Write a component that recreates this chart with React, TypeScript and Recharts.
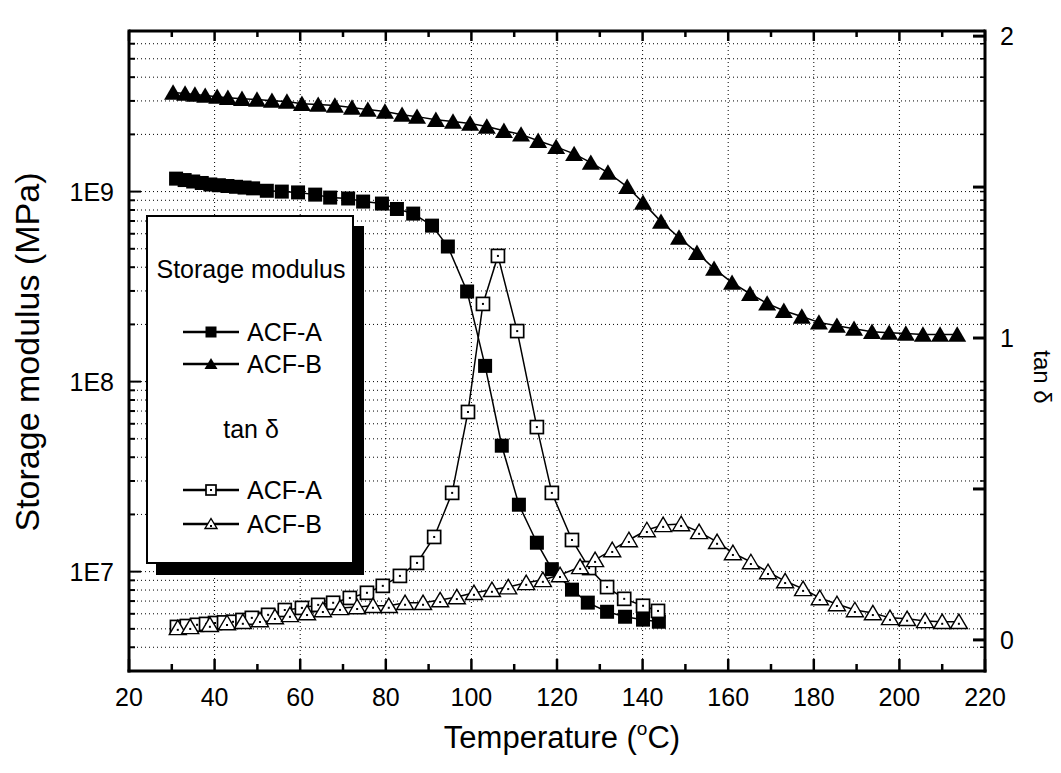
import React from 'react';
import { LineChart, Line, XAxis, YAxis, ReferenceLine, Legend, Label } from 'recharts';

const FONT = '"Liberation Sans", Arial, Helvetica, sans-serif';

const W = 1053;
const H = 757;
const PLOT_W = 856;
const PLOT_H = 640;

// ---- Storage modulus, ACF-A (MPa) ----
const smA_T = [31, 33, 35, 37, 39, 41, 43, 45, 47, 49, 52.2, 55.7, 59.5, 63.5, 67, 71.2, 74.7, 79.1, 82.6, 86.4, 90.8, 94.5, 99.0, 103.2, 107.1, 111.1, 115.3, 118.8, 123.5, 127.2, 131.7, 135.9, 140.1, 143.8];
const smA_E = [1.17e9, 1.15e9, 1.13e9, 1.11e9, 1.09e9, 1.08e9, 1.07e9, 1.06e9, 1.05e9, 1.04e9, 1.01e9, 1.0e9, 0.99e9, 0.964e9, 0.93e9, 0.92e9, 0.886e9, 0.865e9, 0.81e9, 0.766e9, 6.62e8, 5.14e8, 2.98e8, 1.21e8, 4.6e7, 2.25e7, 1.42e7, 1.03e7, 8.04e6, 6.87e6, 6.15e6, 5.79e6, 5.59e6, 5.45e6];

// ---- Storage modulus, ACF-B (MPa) ----
const smB_T = [30.3, 33.1, 35.4, 37.8, 40.6, 43.1, 46.4, 49.9, 53.4, 56.9, 60.4, 64.2, 68.1, 72.1, 75.8, 79.8, 83.8, 87.3, 91.7, 95.7, 99.7, 103.6, 107.6, 111.6, 115.6, 119.8, 124.0, 127.9, 131.9, 136.4, 140.1, 144.3, 148.5, 152.7, 156.7, 160.9, 165.1, 169.1, 173.0, 177.2, 181.2, 185.4, 189.4, 193.6, 197.6, 201.5, 205.5, 209.5, 213.5];
const smB_E = [3.32e9, 3.28e9, 3.24e9, 3.2e9, 3.16e9, 3.12e9, 3.08e9, 3.05e9, 3.01e9, 2.98e9, 2.9e9, 2.87e9, 2.84e9, 2.77e9, 2.7e9, 2.64e9, 2.54e9, 2.48e9, 2.39e9, 2.34e9, 2.28e9, 2.2e9, 2.09e9, 2.0e9, 1.85e9, 1.72e9, 1.58e9, 1.42e9, 1.26e9, 1.06e9, 8.75e8, 6.95e8, 5.73e8, 4.77e8, 3.93e8, 3.32e8, 2.9e8, 2.58e8, 2.36e8, 2.2e8, 2.05e8, 1.97e8, 1.9e8, 1.83e8, 1.81e8, 1.79e8, 1.77e8, 1.77e8, 1.77e8];

// ---- tan delta, ACF-A ----
const tdA_T = [31.2, 33.5, 35.9, 38, 40.1, 42.2, 44.3, 46.5, 48.7, 52.5, 56.4, 60.4, 64.2, 67.7, 71.6, 75.6, 79.3, 83.3, 87.3, 91.3, 95.5, 99.2, 102.7, 106.2, 110.7, 115.3, 118.8, 123.5, 127.5, 131.7, 135.7, 140.1, 143.6];
const tdA_V = [0.043, 0.046, 0.050, 0.053, 0.056, 0.058, 0.060, 0.066, 0.073, 0.083, 0.099, 0.106, 0.116, 0.123, 0.139, 0.156, 0.179, 0.212, 0.255, 0.341, 0.487, 0.755, 1.113, 1.272, 1.023, 0.705, 0.487, 0.331, 0.238, 0.175, 0.136, 0.113, 0.096];

// ---- tan delta, ACF-B ----
const tdB_T = [31.4, 34.3, 38.9, 42.9, 46.6, 50.6, 54.1, 57.6, 61.6, 65.3, 69.3, 73.3, 77.0, 80.7, 84.5, 88.7, 92.7, 96.6, 100.6, 104.8, 108.6, 112.8, 116.7, 120.7, 125.4, 128.9, 132.9, 136.8, 141.0, 144.8, 149.0, 153.2, 157.4, 161.1, 165.3, 169.3, 173.3, 177.5, 181.4, 185.4, 189.6, 193.8, 197.8, 201.8, 206.0, 210.0, 213.9];
const tdB_V = [0.040, 0.043, 0.050, 0.056, 0.060, 0.066, 0.076, 0.083, 0.089, 0.099, 0.106, 0.109, 0.113, 0.113, 0.123, 0.123, 0.132, 0.142, 0.156, 0.166, 0.175, 0.189, 0.199, 0.215, 0.242, 0.265, 0.298, 0.331, 0.364, 0.381, 0.384, 0.358, 0.325, 0.288, 0.258, 0.225, 0.195, 0.169, 0.139, 0.119, 0.099, 0.089, 0.073, 0.070, 0.063, 0.060, 0.060];

// ---- axes ----
const xDomain = [20, 220];
const xTicks = [20, 30, 40, 50, 60, 70, 80, 90, 100, 110, 120, 130, 140, 150, 160, 170, 180, 190, 200, 210, 220];
const xMajorTicks = [20, 40, 60, 80, 100, 120, 140, 160, 180, 200, 220];
const xGridLines = [40, 60, 80, 100, 120, 140, 160, 180, 200];

const leftDomain = [3e6, 7e9];
const leftTicks = [3e6, 4e6, 5e6, 6e6, 7e6, 8e6, 9e6, 1e7, 2e7, 3e7, 4e7, 5e7, 6e7, 7e7, 8e7, 9e7, 1e8, 2e8, 3e8, 4e8, 5e8, 6e8, 7e8, 8e8, 9e8, 1e9, 2e9, 3e9, 4e9, 5e9, 6e9, 7e9];
const leftMajorTicks = [1e7, 1e8, 1e9];
const leftMajorLabels = ['1E7', '1E8', '1E9'];
const leftGridLines = leftTicks.filter((v) => v !== 3e6 && v !== 7e9);

const rightDomain = [-0.103, 2.017];
const rightTicks = [0, 0.5, 1, 1.5, 2];
const rightLabelValues = [0, 1, 2];
const rightLabels = ['0', '1', '2'];

const toPoints = (ts: number[], vs: number[]) => ts.map((t, i) => ({ t, v: vs[i] }));
const smAData = toPoints(smA_T, smA_E);
const smBData = toPoints(smB_T, smB_E);
const tdAData = toPoints(tdA_T, tdA_V);
const tdBData = toPoints(tdB_T, tdB_V);

// ---- markers ----
const drawMarker = (kind: string, cx: number, cy: number, s: number, key?: any) => {
  if (kind === 'fs') {
    return <rect key={key} x={cx - s / 2} y={cy - s / 2} width={s} height={s} fill="#000" />;
  }
  if (kind === 'ft') {
    const h = s * 0.9;
    return <polygon key={key} points={`${cx},${cy - h / 2 - 1} ${cx - s / 2 - 1},${cy + h / 2} ${cx + s / 2 + 1},${cy + h / 2}`} fill="#000" />;
  }
  if (kind === 'os') {
    return (
      <g key={key}>
        <rect x={cx - s / 2} y={cy - s / 2} width={s} height={s} fill="#fff" stroke="#000" strokeWidth={1.7} />
        <rect x={cx - 1} y={cy - 1} width={2} height={2} fill="#000" />
      </g>
    );
  }
  const h = s * 0.9;
  return (
    <g key={key}>
      <polygon points={`${cx},${cy - h / 2 - 1} ${cx - s / 2 - 1},${cy + h / 2} ${cx + s / 2 + 1},${cy + h / 2}`} fill="#fff" stroke="#000" strokeWidth={1.4} strokeLinejoin="miter" />
      <rect x={cx - 1} y={cy + 1} width={2} height={2} fill="#000" />
    </g>
  );
};

const makeDot = (kind: string, size: number) => (p: any) => {
  if (p.cx == null || p.cy == null || isNaN(p.cx) || isNaN(p.cy)) return <g key={p.index} />;
  return drawMarker(kind, p.cx, p.cy, size, p.index);
};

// ---- custom ticks (inward tick marks) ----
const BottomTick = (props: any) => {
  const { x, y, payload } = props;
  const v = payload.value;
  const major = xMajorTicks.includes(v);
  const len = major ? 12 : 7;
  const lenTop = major ? 10 : 6;
  return (
    <g>
      <line x1={x} y1={y} x2={x} y2={y - len} stroke="#000" strokeWidth={2.5} />
      <line x1={x} y1={y - PLOT_H} x2={x} y2={y - PLOT_H + lenTop} stroke="#000" strokeWidth={2.5} />
      {major && (
        <text x={x} y={y + 35} textAnchor="middle" fontSize={25} fontFamily={FONT} fill="#000">
          {String(v)}
        </text>
      )}
    </g>
  );
};

const LeftTick = (props: any) => {
  const { x, y, payload } = props;
  const v = payload.value;
  const mi = leftMajorTicks.indexOf(v);
  const major = mi >= 0;
  const len = major ? 12 : 6;
  return (
    <g>
      <line x1={x} y1={y} x2={x + len} y2={y} stroke="#000" strokeWidth={2} />
      <line x1={x + PLOT_W} y1={y} x2={x + PLOT_W - 5} y2={y} stroke="#000" strokeWidth={1.5} />
      {major && (
        <text x={x - 15} y={y + 9} textAnchor="end" fontSize={25} fontFamily={FONT} fill="#000">
          {leftMajorLabels[mi]}
        </text>
      )}
    </g>
  );
};

const RightTick = (props: any) => {
  const { x, y, payload } = props;
  const v = payload.value;
  const li = rightLabelValues.indexOf(v);
  return (
    <g>
      <line x1={x} y1={y} x2={x - 12} y2={y} stroke="#000" strokeWidth={3} />
      {li >= 0 && (
        <text x={x + 22} y={y + 9} textAnchor="middle" fontSize={25} fontFamily={FONT} fill="#000">
          {rightLabels[li]}
        </text>
      )}
    </g>
  );
};

// ---- legend ----
const legendRows = [
  { type: 'title', text: 'Storage modulus', y: 52 },
  { type: 'item', text: 'ACF-A', marker: 'fs', y: 115 },
  { type: 'item', text: 'ACF-B', marker: 'ft', y: 147 },
  { type: 'title', text: 'tan δ', y: 212 },
  { type: 'item', text: 'ACF-A', marker: 'os', y: 273 },
  { type: 'item', text: 'ACF-B', marker: 'ot', y: 307 },
];

const LegendBox = () => (
  <div
    style={{
      position: 'relative',
      width: 208,
      height: 349,
      boxSizing: 'border-box',
      border: '2px solid #000',
      background: '#fff',
      boxShadow: '10px 11px 0 0 #000',
      fontFamily: FONT,
      fontSize: 25,
      color: '#000',
    }}
  >
    {legendRows.map((r, i) =>
      r.type === 'title' ? (
        <div key={i} style={{ position: 'absolute', left: 0, width: 206, top: r.y - 15, lineHeight: '30px', textAlign: 'center' }}>
          {r.text}
        </div>
      ) : (
        <div key={i} style={{ position: 'absolute', left: 34, top: r.y - 15, height: 30, display: 'flex', alignItems: 'center' }}>
          <svg width={58} height={30} style={{ display: 'block' }}>
            <line x1={1} y1={15} x2={57} y2={15} stroke="#000" strokeWidth={2.5} />
            {drawMarker(r.marker as string, 29, 15, r.marker === 'os' || r.marker === 'ot' ? 10 : 11)}
          </svg>
          <span style={{ marginLeft: 7, lineHeight: '30px' }}>{r.text}</span>
        </div>
      )
    )}
  </div>
);

export default function App() {
  return (
    <div style={{ width: W, height: H }}>
      <LineChart width={W} height={H} margin={{ top: 23, right: 8, bottom: 34, left: 0 }}>
        <XAxis
          xAxisId="x"
          type="number"
          dataKey="t"
          domain={xDomain}
          ticks={xTicks}
          interval={0}
          allowDataOverflow
          tickSize={0}
          tickMargin={0}
          tickLine={false}
          tick={<BottomTick />}
          height={60}
          axisLine={{ stroke: '#000', strokeWidth: 3, strokeLinecap: 'square' }}
        >
          <Label
            content={() => (
              <text x={554} y={740} textAnchor="middle" fontSize={31} fontFamily={FONT} fill="#000">
                Temperature (
                <tspan fontSize={19} dy={-13}>o</tspan>
                <tspan dy={13}>C)</tspan>
              </text>
            )}
          />
        </XAxis>
        <YAxis
          yAxisId="left"
          orientation="left"
          type="number"
          scale="log"
          domain={leftDomain}
          ticks={leftTicks}
          interval={0}
          allowDataOverflow
          width={121}
          tickSize={0}
          tickMargin={0}
          tickLine={false}
          tick={<LeftTick />}
          axisLine={{ stroke: '#000', strokeWidth: 3, strokeLinecap: 'square' }}
        >
          <Label
            content={() => (
              <text
                x={19}
                y={344 + 12}
                transform="rotate(-90 19 344)"
                textAnchor="middle"
                fontSize={34}
                fontFamily={FONT}
                fill="#000"
              >
                Storage modulus (MPa)
              </text>
            )}
          />
        </YAxis>
        <YAxis
          yAxisId="right"
          orientation="right"
          type="number"
          domain={rightDomain}
          ticks={rightTicks}
          interval={0}
          allowDataOverflow
          width={68}
          tickSize={0}
          tickMargin={0}
          tickLine={false}
          tick={<RightTick />}
          axisLine={{ stroke: '#000', strokeWidth: 3, strokeLinecap: 'square' }}
        >
          <Label
            content={() => (
              <text
                x={1034}
                y={369 + 8}
                transform="rotate(90 1034 369)"
                textAnchor="middle"
                fontSize={24}
                fontFamily={FONT}
                fill="#000"
              >
                tan δ
              </text>
            )}
          />
        </YAxis>

        {leftGridLines.map((v) => (
          <ReferenceLine key={'h' + v} xAxisId="x" yAxisId="left" y={v} stroke="#000" strokeWidth={1} strokeDasharray="1 3" />
        ))}
        {xGridLines.map((v) => (
          <ReferenceLine key={'v' + v} xAxisId="x" yAxisId="left" x={v} stroke="#000" strokeWidth={1} strokeDasharray="1 3" />
        ))}
        <ReferenceLine xAxisId="x" yAxisId="left" y={leftDomain[1]} stroke="#000" strokeWidth={3} ifOverflow="visible" />

        <Line xAxisId="x" yAxisId="left" data={smAData} dataKey="v" type="linear" stroke="#000" strokeWidth={1.5} dot={makeDot('fs', 14)} isAnimationActive={false} />
        <Line xAxisId="x" yAxisId="left" data={smBData} dataKey="v" type="linear" stroke="#000" strokeWidth={1.5} dot={makeDot('ft', 16)} isAnimationActive={false} />
        <Line xAxisId="x" yAxisId="right" data={tdAData} dataKey="v" type="linear" stroke="#000" strokeWidth={1.5} dot={makeDot('os', 13)} isAnimationActive={false} />
        <Line xAxisId="x" yAxisId="right" data={tdBData} dataKey="v" type="linear" stroke="#000" strokeWidth={1.5} dot={makeDot('ot', 15)} isAnimationActive={false} />

        <Legend
          layout="vertical"
          align="center"
          verticalAlign="middle"
          content={<LegendBox />}
          wrapperStyle={{ left: 138, top: 207, width: 220, height: 362 }}
        />
      </LineChart>
    </div>
  );
}
